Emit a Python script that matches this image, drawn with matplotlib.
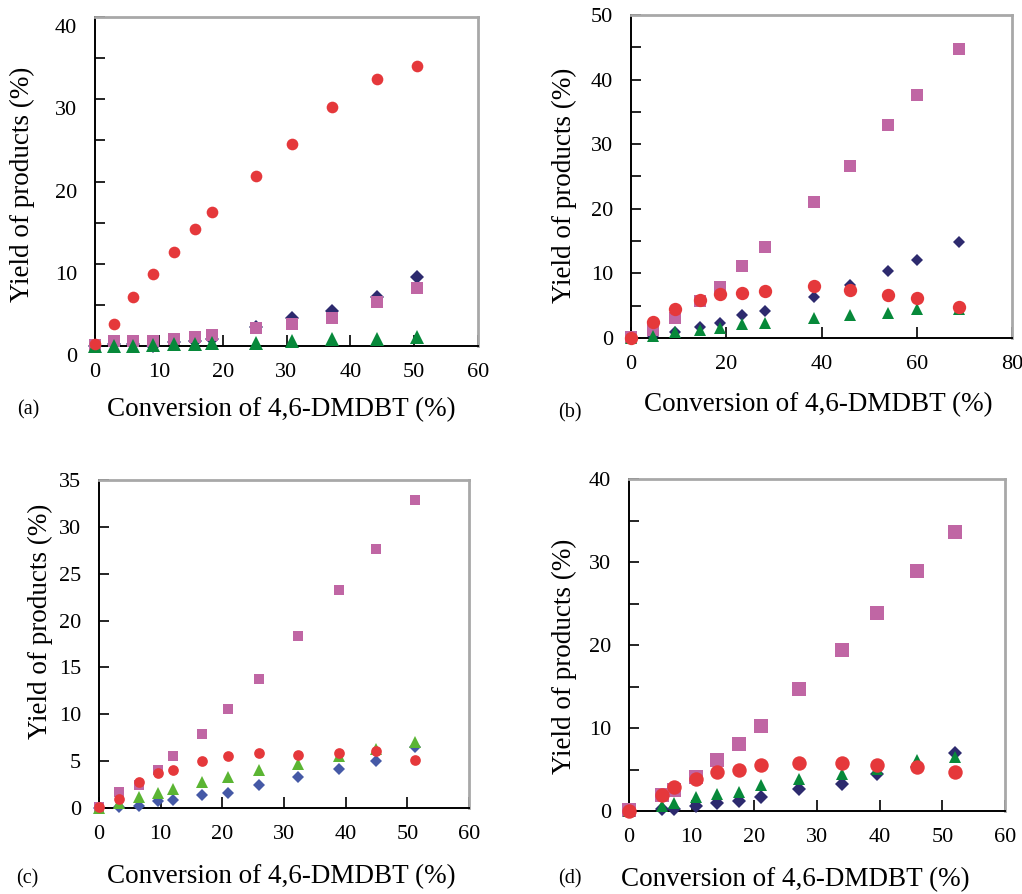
import matplotlib
matplotlib.use("Agg")
import matplotlib.pyplot as plt
from matplotlib.transforms import ScaledTranslation

plt.rcParams['font.family'] = ['Liberation Serif', 'DejaVu Serif']

# ---------------- data ----------------
# Panel (a)
a_x = [0, 2.9, 5.9, 9.1, 12.4, 15.7, 18.3, 25.2, 30.8, 37.1, 44.2, 50.5]
a_circle = [0.2, 2.7, 5.9, 8.8, 11.4, 14.2, 16.3, 20.7, 24.5, 29.0, 32.5, 34.1]
a_square = [0.1, 0.65, 0.65, 0.65, 0.85, 1.05, 1.3, 2.2, 2.7, 3.4, 5.3, 7.1]
a_diamond = [0.0, 0.2, 0.3, 0.0, 0.5, 0.6, 0.8, 2.35, 3.4, 4.3, 5.9, 8.4]
a_triangle = [0.0, 0.0, 0.0, 0.1, 0.2, 0.2, 0.4, 0.4, 0.65, 0.8, 0.8, 1.05]

# Panel (b)
b_x = [0, 4.7, 9.2, 14.5, 18.7, 23.3, 28.2, 38.5, 46.0, 54.0, 60.0, 68.9]
b_circle = [0.0, 2.5, 4.5, 5.9, 6.8, 7.0, 7.3, 8.1, 7.5, 6.7, 6.2, 4.8]
b_square = [0.15, 1.3, 3.1, 5.7, 7.9, 11.2, 14.1, 21.1, 26.7, 32.9, 37.6, 44.7]
b_diamond = [0.0, 0.25, 0.9, 1.7, 2.3, 3.5, 4.2, 6.4, 8.2, 10.4, 12.1, 14.8]
b_triangle = [0.0, 0.3, 0.9, 1.2, 1.5, 2.1, 2.3, 3.1, 3.6, 3.9, 4.5, 4.5]

# Panel (c)
c_x = [0, 3.2, 6.5, 9.6, 12.0, 16.7, 20.9, 25.9, 32.2, 38.9, 44.9, 51.2]
c_circle = [0.15, 1.0, 2.8, 3.7, 4.05, 5.0, 5.5, 5.9, 5.7, 5.9, 6.05, 5.1]
c_square = [0.15, 1.75, 2.45, 4.1, 5.5, 7.9, 10.6, 13.8, 18.4, 23.3, 27.6, 32.9]
c_diamond = [0.0, 0.07, 0.25, 0.8, 0.9, 1.4, 1.6, 2.5, 3.3, 4.2, 5.05, 6.5]
c_triangle = [0.0, 0.5, 1.15, 1.6, 2.0, 2.8, 3.3, 4.05, 4.7, 5.6, 6.3, 7.0]

# Panel (d)
d_x = [0, 5.3, 7.2, 10.7, 14.0, 17.5, 21.0, 27.2, 34.0, 39.5, 45.9, 52.1]
d_circle = [0.0, 1.9, 2.9, 3.8, 4.7, 5.0, 5.5, 5.8, 5.8, 5.5, 5.25, 4.7]
d_square = [0.1, 1.9, 2.5, 4.1, 6.1, 8.1, 10.3, 14.7, 19.4, 23.9, 28.9, 33.6]
d_diamond = [0.0, 0.3, 0.2, 0.6, 1.0, 1.2, 1.7, 2.6, 3.3, 4.5, 5.3, 7.0]
d_triangle = [0.0, 0.6, 1.0, 1.7, 2.1, 2.3, 3.1, 3.9, 4.5, 5.1, 6.1, 6.5]

panel_labels = ['(a)', '(b)', '(c)', '(d)']
xlabel_text = 'Conversion of 4,6-DMDBT (%)'
ylabel_text = 'Yield of products (%)'

RED = '#e5383b'
PINK = '#c066a4'
NAVY = '#2d2a6e'
GREEN = '#07893a'
BLUE_C = '#4559a6'
LGREEN_C = '#5bb533'

W, H = 1022, 894
fig = plt.figure(figsize=(W / 100, H / 100), dpi=100)


def px_axes(l, r, t, b):
    return fig.add_axes([l / W, 1 - b / H, (r - l) / W, (b - t) / H])


def style(ax, xmax, xstep, ymax, ymajor, yminor):
    ax.set_xlim(0, xmax)
    ax.set_ylim(0, ymax)
    ax.set_xticks(list(range(0, xmax + 1, xstep)))
    ax.set_yticks(list(range(0, ymax + 1, ymajor)))
    ax.set_yticks(list(range(0, ymax + 1, yminor)), minor=True)
    ax.tick_params(axis='both', which='both', direction='in', labelsize=16,
                   width=1.2, color='black')
    ax.tick_params(axis='y', which='both', length=7, pad=13)
    ax.tick_params(axis='x', which='both', length=8, pad=12)
    ax.tick_params(axis='x', which='minor', length=0)
    for s in ['left', 'bottom']:
        ax.spines[s].set_color('black')
        ax.spines[s].set_linewidth(1.4)
    for s in ['top', 'right']:
        ax.spines[s].set_color('#a8a8a8')
        ax.spines[s].set_linewidth(2.0)


def draw(ax, x, dia, sq, tri, cir, sizes, dcol=NAVY, tcol=GREEN):
    ms_c, ms_s, ms_d, ms_t = sizes
    ax.plot(x, dia, linestyle='none', marker='D', color=dcol, markersize=ms_d,
            markeredgewidth=0, clip_on=False, zorder=3)
    ax.plot(x, sq, linestyle='none', marker='s', color=PINK, markersize=ms_s,
            markeredgewidth=0, clip_on=False, zorder=4)
    ax.plot(x, tri, linestyle='none', marker='^', color=tcol, markersize=ms_t,
            markeredgewidth=0, clip_on=False, zorder=5)
    ax.plot(x, cir, linestyle='none', marker='o', color=RED, markersize=ms_c,
            markeredgewidth=0, clip_on=False, zorder=6)


def ftext(x, y, s, **kw):
    fig.text(x / W, 1 - y / H, s, **kw)


# (a)
axa = px_axes(95, 478, 17, 346)
style(axa, 60, 10, 40, 10, 5)
draw(axa, a_x, a_diamond, a_square, a_triangle, a_circle, (8.4, 8.3, 7.0, 10))
for lab in axa.get_yticklabels():
    lab.set_transform(lab.get_transform() + ScaledTranslation(0, -0.09, fig.dpi_scale_trans))

# (b)
axb = px_axes(631, 1012, 15, 338)
style(axb, 80, 20, 50, 10, 5)
draw(axb, b_x, b_diamond, b_square, b_triangle, b_circle, (9.6, 8.6, 6.6, 9.1))

# (c)
axc = px_axes(99, 469, 480, 808)
style(axc, 60, 10, 35, 5, 5)
draw(axc, c_x, c_diamond, c_square, c_triangle, c_circle, (7.7, 7.7, 6.1, 8.6),
     dcol=BLUE_C, tcol=LGREEN_C)

# (d)
axd = px_axes(629, 1005, 479, 811)
style(axd, 60, 10, 40, 10, 5)
draw(axd, d_x, d_diamond, d_square, d_triangle, d_circle, (10.4, 10.0, 6.7, 9.2))

# axis titles and panel labels
lab_kw = dict(fontsize=19.5, ha='center', va='center')
ftext(281, 410, xlabel_text, **lab_kw)
ftext(818, 405, xlabel_text, **lab_kw)
ftext(281, 877, xlabel_text, **lab_kw)
ftext(795, 880, xlabel_text, **lab_kw)

ftext(22, 184, ylabel_text, rotation=90, **lab_kw)
ftext(564, 185, ylabel_text, rotation=90, **lab_kw)
ftext(40, 621, ylabel_text, rotation=90, **lab_kw)
ftext(564, 656, ylabel_text, rotation=90, **lab_kw)

pl_kw = dict(fontsize=14.5, ha='center', va='center')
ftext(28, 410, panel_labels[0], **pl_kw)
ftext(570, 413, panel_labels[1], **pl_kw)
ftext(27, 879, panel_labels[2], **pl_kw)
ftext(570, 879, panel_labels[3], **pl_kw)

fig.savefig('out.png', dpi=100)
